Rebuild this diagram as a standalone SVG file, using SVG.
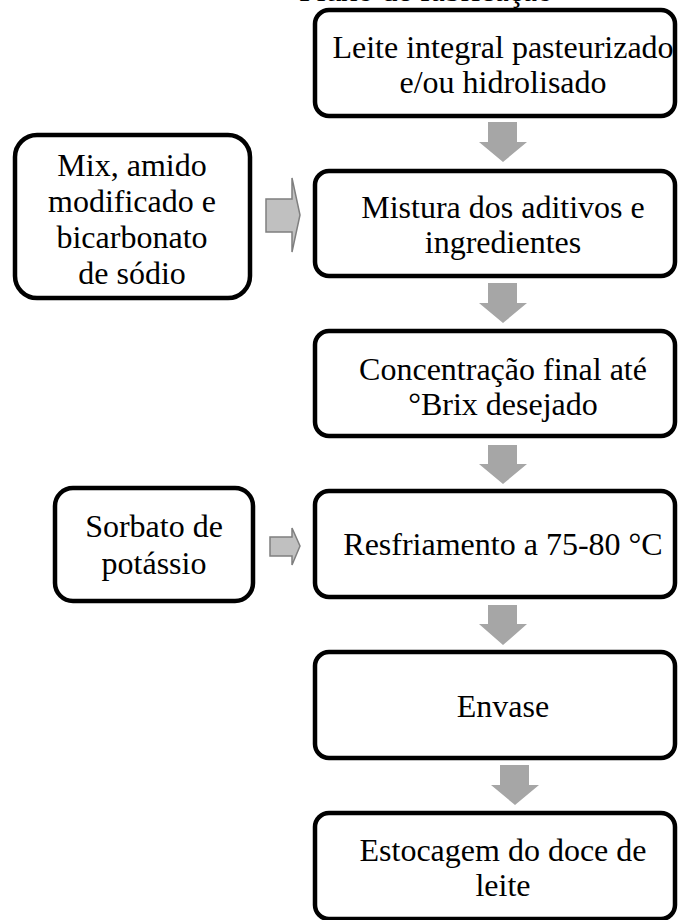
<svg xmlns="http://www.w3.org/2000/svg" width="681" height="920" viewBox="0 0 681 920">
<style>
.box{fill:#fff;stroke:#000;stroke-width:4.5}
.t{font-family:"Liberation Serif","Times New Roman",serif;font-size:32px;fill:#000;text-anchor:middle}
.dn{fill:#a6a6a6;stroke:none}
.rt{fill:#c0c0c0;stroke:#7f7f7f;stroke-width:1.5}
</style>
<rect width="681" height="920" fill="#fff"/>
<text class="t" x="553" y="1" style="text-anchor:end">Fluxo de fabricação</text>
<g id="n1"><rect class="box" x="315" y="10" width="360" height="106" rx="14"/>
<text class="t" x="503" y="58">Leite integral pasteurizado</text><text class="t" x="503" y="93">e/ou hidrolisado</text></g>
<g id="n2"><rect class="box" x="315" y="171" width="360" height="105" rx="14"/>
<text class="t" x="503" y="218">Mistura dos aditivos e</text><text class="t" x="503" y="253">ingredientes</text></g>
<g id="n3"><rect class="box" x="315" y="331" width="360" height="105" rx="14"/>
<text class="t" x="503" y="380">Concentração final até</text><text class="t" x="503" y="415">°Brix desejado</text></g>
<g id="n4"><rect class="box" x="315" y="491" width="360" height="106" rx="14"/>
<text class="t" x="503" y="555">Resfriamento a 75-80 °C</text></g>
<g id="n5"><rect class="box" x="315" y="652" width="360" height="106" rx="14"/>
<text class="t" x="503" y="717">Envase</text></g>
<g id="n6"><rect class="box" x="315" y="813" width="360" height="106" rx="14"/>
<text class="t" x="503" y="861">Estocagem do doce de</text><text class="t" x="503" y="896">leite</text></g>
<g id="a1"><rect class="box" x="15" y="135" width="235" height="163" rx="22"/>
<text class="t" x="132" y="176">Mix, amido</text><text class="t" x="132" y="212">modificado e</text><text class="t" x="132" y="248">bicarbonato</text><text class="t" x="132" y="284">de sódio</text></g>
<g id="a2"><rect class="box" x="55" y="488" width="198" height="113" rx="18"/>
<text class="t" x="154" y="537">Sorbato de</text><text class="t" x="154" y="574">potássio</text></g>
<g id="connectors">
<polygon class="dn" points="488,122 517,122 517,142 527,142 503,162 479,142 488,142"/>
<polygon class="dn" points="488,283 517,283 517,303 527,303 503,323 479,303 488,303"/>
<polygon class="dn" points="488,445 517,445 517,464 527,464 503,484 479,464 488,464"/>
<polygon class="dn" points="488,605 517,605 517,624 527,624 503,645 479,624 488,624"/>
<polygon class="dn" points="500,765 529,765 529,785 539,785 515,805 491,785 500,785"/>
<polygon class="rt" points="266,199 292,199 292,178 300,215 292,252 292,232 266,232"/>
<polygon class="rt" points="270,537 292,537 292,528 300,546 292,565 292,556 270,556"/>
</g>
</svg>
